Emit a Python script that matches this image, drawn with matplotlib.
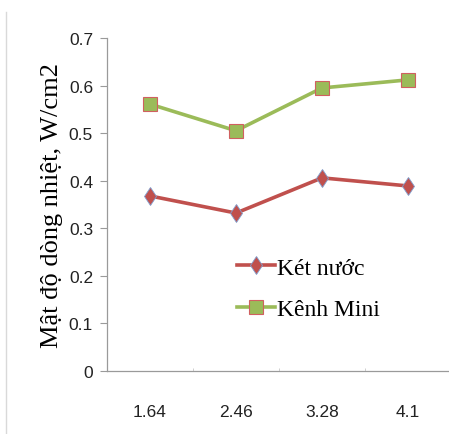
import matplotlib

matplotlib.use("Agg")
import matplotlib.pyplot as plt
from matplotlib.lines import Line2D

categories = ["1.64", "2.46", "3.28", "4.1"]
ket_nuoc = [0.368, 0.332, 0.406, 0.389]
kenh_mini = [0.561, 0.505, 0.595, 0.612]
y_ticks = [0, 0.1, 0.2, 0.3, 0.4, 0.5, 0.6, 0.7]
y_tick_labels = ["0", "0.1", "0.2", "0.3", "0.4", "0.5", "0.6", "0.7"]

fig = plt.figure(figsize=(4.49, 4.35), dpi=100)
ax = fig.add_axes([107 / 449, 1 - 372 / 435, 344 / 449, 333 / 435])

x = [i + 0.5 for i in range(len(categories))]
ax.plot(x, ket_nuoc, color="#C0504D", lw=2.6, marker="d", ms=9.5,
        mfc="#C0504D", mec="#7F9FD0", mew=0.6, label="Két nước", clip_on=False)
ax.plot(x, kenh_mini, color="#9BBB59", lw=2.6, marker="s", ms=9.5,
        mfc="#9BBB59", mec="#D06060", mew=0.8, label="Kênh Mini", clip_on=False)

ax.set_xlim(0, len(categories))
ax.set_ylim(0, 0.7)
ax.set_xticks(x)
ax.set_xticklabels(categories)
ax.set_xticks(range(len(categories) + 1), minor=True)
ax.set_yticks(y_ticks)
ax.set_yticklabels(y_tick_labels)

for side in ("top", "right"):
    ax.spines[side].set_visible(False)
for side in ("left", "bottom"):
    ax.spines[side].set_color("#9a9a9a")
    ax.spines[side].set_linewidth(0.9)

ax.tick_params(axis="y", direction="out", length=5, color="#9a9a9a",
               labelsize=12.5, pad=5)
ax.tick_params(axis="x", which="major", length=0, labelsize=12.5, pad=24)
ax.tick_params(axis="x", which="minor", direction="in", length=2,
               color="#c8c8c8")
for lab in ax.get_xticklabels() + ax.get_yticklabels():
    lab.set_fontfamily("Liberation Sans")
    lab.set_color("#222222")

ax.set_ylabel("Mật độ dòng nhiệt, W/cm2", family="Liberation Serif",
              fontsize=19, labelpad=4)

ax.legend(loc="upper left", bbox_to_anchor=(0.35, 0.37), frameon=False,
          prop={"family": "Liberation Serif", "size": 17},
          handlelength=1.6, handletextpad=0.1, labelspacing=0.85,
          borderaxespad=0)

# outer chart border line on the left
fig.add_artist(Line2D([6 / 449, 6 / 449], [0, 1 - 13 / 435],
                      transform=fig.transFigure, color="#d9d9d9", lw=1))

fig.savefig("out.png", dpi=100)
